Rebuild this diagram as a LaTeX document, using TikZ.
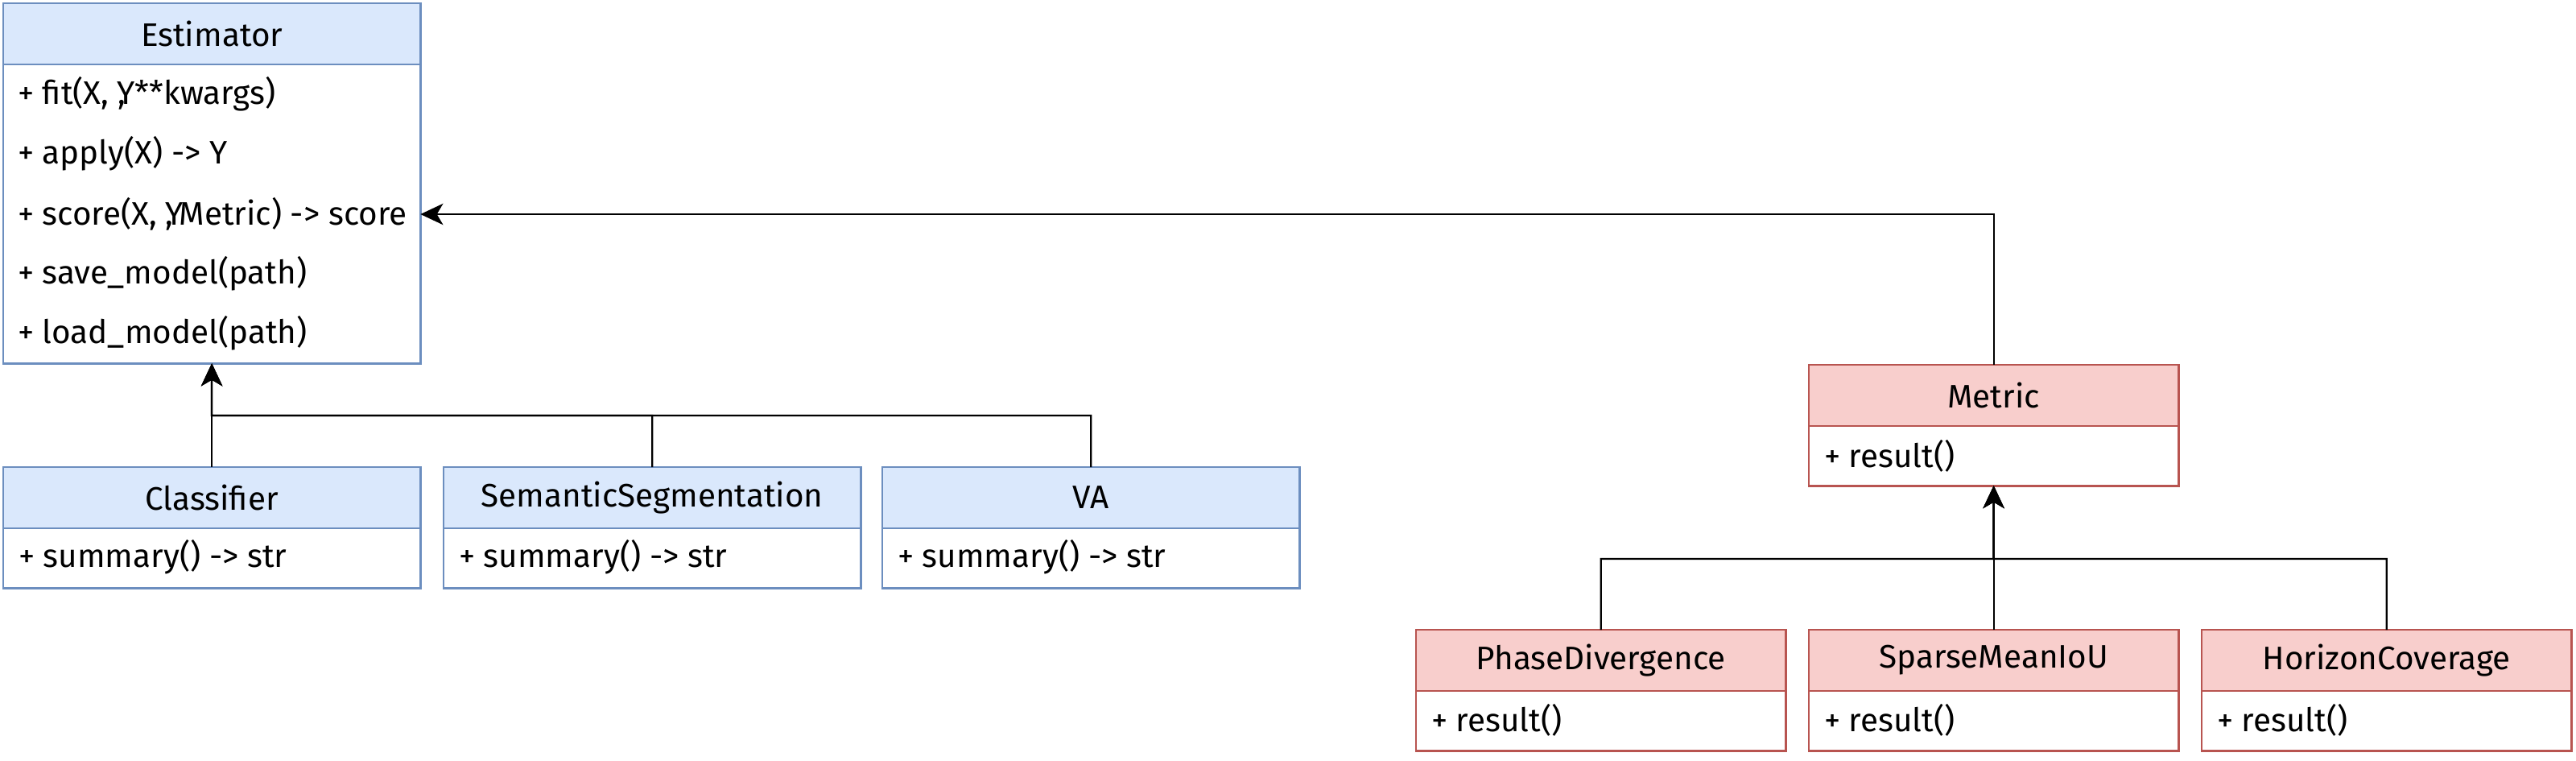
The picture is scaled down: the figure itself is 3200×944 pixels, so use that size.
\documentclass[tikz,border=0pt]{standalone}
\usepackage{fontspec}
\setmainfont{Fira Sans}
\usepackage{tikz}
\usetikzlibrary{arrows.meta, positioning}
\definecolor{umlBlueFill}{HTML}{DAE8FC}
\definecolor{umlBlueLine}{HTML}{6C8EBF}
\definecolor{umlRedFill}{HTML}{F8CECC}
\definecolor{umlRedLine}{HTML}{B85450}
\tikzset{
  bluehead/.style={draw=umlBlueLine, fill=umlBlueFill, line width=0.8pt,
                   minimum width=5.18cm, minimum height=0.76cm},
  bluebody/.style={draw=umlBlueLine, fill=white, line width=0.8pt,
                   minimum width=5.18cm, minimum height=0.74cm},
  redhead/.style={draw=umlRedLine, fill=umlRedFill, line width=0.8pt,
                  minimum width=4.59cm, minimum height=0.76cm},
  redbody/.style={draw=umlRedLine, fill=white, line width=0.8pt,
                  minimum width=4.59cm, minimum height=0.74cm},
  member/.style={anchor=west},
  inherit/.style={line width=0.65pt, -{Stealth[length=8pt, width=7.5pt, inset=2.2pt]}}
}

\begin{document}
\begin{tikzpicture}[x=0.01cm, y=-0.01cm, node distance=0pt,
    every node/.style={font=\fontsize{11.5}{13.5}\selectfont, inner sep=0pt, outer sep=0pt}]
  \useasboundingbox (0,0) rectangle (3200,944);

  % base class
  \node[bluehead, anchor=north west] (est) at (4,4) {Estimator};
  \node[bluebody, minimum height=3.71cm, below=of est] (estbody) {};
  \node[member] (estfit) at (22,117) {+ fit(X, ,\kern-.25em Y**kwargs)};
  \node[member] (estapply) at (22,191) {+ apply(X) -> Y};
  \node[member] (estscore) at (22,266) {+ score(X, ,\kern-.25em Y\kern-.12em Metric) -> score};
  \node[member] (estsave) at (22,340) {+ save\_model(path)};
  \node[member] (estload) at (22,414) {+ load\_model(path)};

  % estimators
  \node[bluehead, anchor=north west] (cls) at (4,580) {Classifier};
  \node[bluebody, below=of cls] (clsbody) {};
  \node[member] (clsfn) at (23,692) {+ summary() -> str};
  \node[bluehead, anchor=north west] (seg) at (551,580) {SemanticSegmentation};
  \node[bluebody, below=of seg] (segbody) {};
  \node[member] (segfn) at (570,692) {+ summary() -> str};
  \node[bluehead, anchor=north west] (va) at (1096,580) {VA};
  \node[bluebody, below=of va] (vabody) {};
  \node[member] (vafn) at (1115,692) {+ summary() -> str};

  % metrics
  \node[redhead, anchor=north west] (met) at (2247,453) {Metric};
  \node[redbody, below=of met] (metbody) {};
  \node[member] (metfn) at (2266,566) {+ result()};
  \node[redhead, anchor=north west] (phase) at (1759,782) {PhaseDivergence};
  \node[redbody, below=of phase] (phasebody) {};
  \node[member] (phasefn) at (1778,894) {+ result()};
  \node[redhead, anchor=north west] (sparse) at (2247,782) {SparseMeanIoU};
  \node[redbody, below=of sparse] (sparsebody) {};
  \node[member] (sparsefn) at (2266,894) {+ result()};
  \node[redhead, anchor=north west] (horizon) at (2735,782) {HorizonCoverage};
  \node[redbody, below=of horizon] (horizonbody) {};
  \node[member] (horizonfn) at (2754,894) {+ result()};

  % inheritance
  \coordinate (estjoin) at (263,516);
  \coordinate (metjoin) at (2476.5,694);
  \coordinate (scoreport) at (estbody.east |- estscore);
  \draw[inherit] (cls.north) -- (estbody.south);
  \draw[inherit] (seg.north) |- (estjoin) -- (estbody.south);
  \draw[inherit] (va.north) |- (estjoin) -- (estbody.south);
  \draw[inherit] (sparse.north) -- (metbody.south);
  \draw[inherit] (phase.north) |- (metjoin) -- (metbody.south);
  \draw[inherit] (horizon.north) |- (metjoin) -- (metbody.south);
  \draw[inherit] (met.north) |- (scoreport);
\end{tikzpicture}
\end{document}
